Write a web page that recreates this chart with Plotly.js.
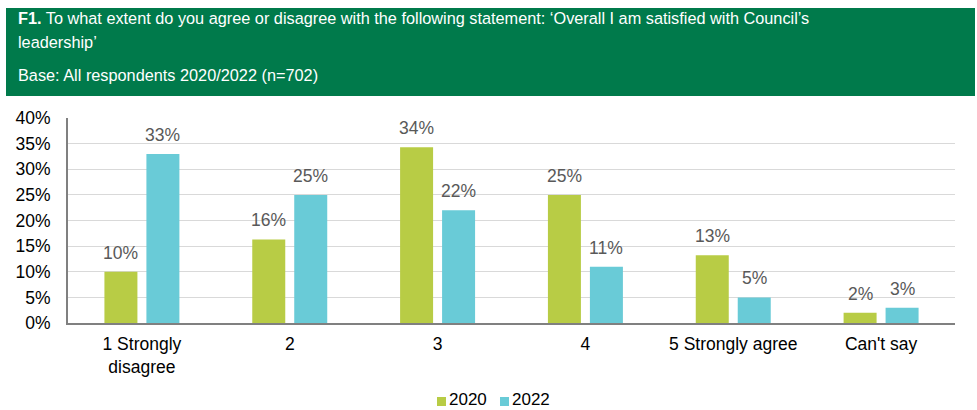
<!DOCTYPE html>
<html>
<head>
<meta charset="utf-8">
<script src="https://cdn.plot.ly/plotly-3.0.1.min.js"></script>
<style>
html,body{margin:0;padding:0;background:#fff;}
#chart{width:977px;height:410px;}
</style>
</head>
<body>
<div id="chart"></div>
<script>
const categories = ["1 Strongly<br>disagree", "2", "3", "4", "5 Strongly agree", "Can't say"];
const seriesNames = ["2020", "2022"];
const seriesColors = ["#B8CC45", "#69CBD7"];
const values2020 = [10, 16.3, 34.3, 25, 13.2, 2];
const values2022 = [33, 25, 22, 11, 5, 3];
const labels2020 = ["10%", "16%", "34%", "25%", "13%", "2%"];
const labels2022 = ["33%", "25%", "22%", "11%", "5%", "3%"];
const yTickVals = [0, 5, 10, 15, 20, 25, 30, 35, 40];
const yTickText = ["0%", "5%", "10%", "15%", "20%", "25%", "30%", "35%", "40%"];

const W = 977, H = 410;
const px = v => v / W;
const py = v => 1 - v / H;
const FONT = 'Liberation Sans, Arial, sans-serif';
const FS = 17.5;

const traces = [
  {type: 'bar', name: seriesNames[0], x: categories, y: values2020,
   marker: {color: seriesColors[0]}, hoverinfo: 'none', showlegend: false},
  {type: 'bar', name: seriesNames[1], x: categories, y: values2022,
   marker: {color: seriesColors[1]}, hoverinfo: 'none', showlegend: false}
];

const annotations = [];
categories.forEach((c, i) => {
  annotations.push({x: i, y: values2020[i], xref: 'x', yref: 'y', text: labels2020[i],
    showarrow: false, yanchor: 'bottom', xanchor: 'center', xshift: -21, yshift: 7,
    font: {family: FONT, size: FS, color: '#595959'}});
  annotations.push({x: i, y: values2022[i], xref: 'x', yref: 'y', text: labels2022[i],
    showarrow: false, yanchor: 'bottom', xanchor: 'center', xshift: 21, yshift: 7,
    font: {family: FONT, size: FS, color: '#595959'}});
});

const hdrFont = {family: FONT, size: 16.3, color: '#ffffff'};
annotations.push({xref: 'paper', yref: 'paper', x: px(16), y: py(18), xanchor: 'left', yanchor: 'middle',
  showarrow: false, align: 'left', font: hdrFont,
  text: "<b>F1.</b> To what extent do you agree or disagree with the following statement: ‘Overall I am satisfied with Council’s"});
annotations.push({xref: 'paper', yref: 'paper', x: px(16), y: py(42), xanchor: 'left', yanchor: 'middle',
  showarrow: false, align: 'left', font: hdrFont, text: "leadership’"});
annotations.push({xref: 'paper', yref: 'paper', x: px(16), y: py(75), xanchor: 'left', yanchor: 'middle',
  showarrow: false, align: 'left', font: hdrFont, text: "Base: All respondents 2020/2022 (n=702)"});

// legend (drawn manually to match compact swatches)
const legendText = [449, 512];
const shapes = [
  {type: 'rect', xref: 'paper', yref: 'paper', x0: px(6), x1: px(975), y0: py(96), y1: py(8),
   fillcolor: '#007A4B', line: {width: 0}, layer: 'below'}
];
seriesNames.forEach((n, k) => {
  shapes.push({type: 'rect', xref: 'paper', yref: 'paper',
    x0: px(legendText[k] - 12), x1: px(legendText[k] - 3), y0: py(406), y1: py(397),
    fillcolor: seriesColors[k], line: {width: 0}});
  annotations.push({xref: 'paper', yref: 'paper', x: px(legendText[k] - 1), y: py(399),
    xanchor: 'left', yanchor: 'middle', showarrow: false, text: n, borderpad: 0,
    font: {family: FONT, size: 17, color: '#000000'}});
});

const layout = {
  width: W, height: H,
  margin: {l: 0, r: 0, t: 0, b: 0, autoexpand: false},
  paper_bgcolor: '#ffffff', plot_bgcolor: '#ffffff',
  barmode: 'group', bargap: 0.432, bargroupgap: 0.214,
  showlegend: false,
  font: {family: FONT},
  xaxis: {domain: [px(68), px(955)], type: 'category', showgrid: false, automargin: false,
    showline: true, linecolor: '#808080', linewidth: 2, ticks: '', zeroline: false,
    ticklabelstandoff: 4,
    tickfont: {family: FONT, size: FS, color: '#000000'},
    fixedrange: true},
  yaxis: {domain: [py(323), py(118)], range: [0, 40], tickvals: yTickVals, ticktext: yTickText,
    automargin: false,
    showgrid: true, gridcolor: '#d9d9d9', gridwidth: 1, showline: true, linecolor: '#808080', linewidth: 2,
    ticks: '', zeroline: false, ticklabelstandoff: 12,
    tickfont: {family: FONT, size: FS, color: '#000000'},
    fixedrange: true},
  shapes: shapes,
  annotations: annotations
};

Plotly.newPlot('chart', traces, layout, {displayModeBar: false, staticPlot: true});
</script>
</body>
</html>
